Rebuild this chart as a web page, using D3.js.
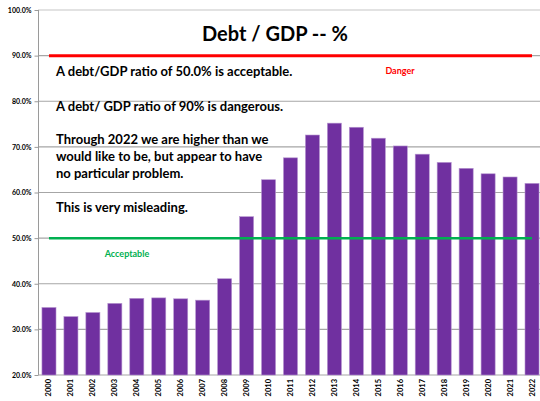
<!DOCTYPE html>
<html><head><meta charset="utf-8">
<script src="https://cdn.jsdelivr.net/npm/d3@7"></script>
<style>body{margin:0;background:#fff}svg{display:block}</style>
</head><body>
<svg id="c" width="540" height="401"></svg>
<script>
const years = ["2000","2001","2002","2003","2004","2005","2006","2007","2008","2009","2010","2011","2012","2013","2014","2015","2016","2017","2018","2019","2020","2021","2022"];
const debtPct = [34.8,32.8,33.7,35.7,36.8,36.9,36.7,36.4,41.1,54.7,62.8,67.6,72.6,75.2,74.3,71.9,70.2,68.4,66.6,65.3,64.1,63.4,62.0];
const yTicks = [20,30,40,50,60,70,80,90,100];
const dangerLevel = 90;
const acceptableLevel = 50;
const title = "Debt / GDP -- %";
const notes = [
  "A debt/GDP ratio of 50.0% is acceptable.",
  "A debt/ GDP ratio of 90% is dangerous.",
  "Through 2022 we are higher than we",
  "would like to be, but appear to have",
  "no particular problem.",
  "This is very misleading."
];

const svg = d3.select("#c");
const font = "Lato, 'Open Sans', sans-serif";
const x = d3.scaleBand().domain(years).range([38, 543]).paddingInner(0.36).paddingOuter(0.18);
const y = d3.scaleLinear().domain([20, 100]).range([375, 10]);

// gridlines
svg.append("g").selectAll("line").data(yTicks.slice(1)).join("line")
  .attr("x1", 38).attr("x2", 540)
  .attr("y1", d => y(d)).attr("y2", d => y(d))
  .attr("stroke", d => d === 100 ? "#d9d9d9" : "#a6a6a6").attr("stroke-width", d => d===100?1.5:1.2);

// y axis
const yAxis = d3.axisLeft(y).tickValues(yTicks).tickSize(4).tickFormat(d => d.toFixed(1) + "%");
const ga = svg.append("g").attr("transform", "translate(38.5,0)").call(yAxis);
ga.select(".domain").attr("stroke", "#9a9a9a").attr("d", `M0,${y(100)}V${y(20)}`);
ga.selectAll(".tick line").attr("stroke", "#9a9a9a");
ga.selectAll(".tick text").attr("x", -7).attr("font-family", font).attr("font-weight", "bold").attr("font-size", 7).attr("fill", "#000");

// bottom axis line
svg.append("line").attr("x1", 38).attr("x2", 540).attr("y1", y(20)).attr("y2", y(20)).attr("stroke", "#a6a6a6").attr("stroke-width", 1.2);

// bars
svg.append("g").selectAll("rect").data(years).join("rect")
  .attr("x", d => x(d)).attr("width", x.bandwidth())
  .attr("y", (d,i) => y(debtPct[i])).attr("height", (d,i) => y(20) - y(debtPct[i]))
  .attr("fill", "#7030a0").attr("stroke", "#b695d0").attr("stroke-width", 0.6);

// x labels
svg.append("g").selectAll("text").data(years).join("text")
  .attr("transform", d => `translate(${x(d) + x.bandwidth()/2 + 2.5},379) rotate(-90)`)
  .attr("text-anchor", "end").attr("font-family", font).attr("font-weight", "bold").attr("font-size", 7.5)
  .text(d => d);

// reference lines
const cx0 = x(years[0]) + x.bandwidth()/2, cx1 = x(years[years.length-1]) + x.bandwidth()/2;
svg.append("line").attr("x1", cx0).attr("x2", cx1).attr("y1", y(dangerLevel)).attr("y2", y(dangerLevel)).attr("stroke", "#ff0000").attr("stroke-width", 3);
svg.append("line").attr("x1", cx0).attr("x2", cx1).attr("y1", y(acceptableLevel)).attr("y2", y(acceptableLevel)).attr("stroke", "#00b050").attr("stroke-width", 2.5);

svg.append("text").attr("x", 400).attr("y", 74).attr("text-anchor", "middle").attr("font-family", font).attr("font-weight", "bold").attr("font-size", 9).attr("fill", "#ff0000").text("Danger");
svg.append("text").attr("x", 127).attr("y", 257).attr("text-anchor", "middle").attr("font-family", font).attr("font-weight", "bold").attr("font-size", 9).attr("fill", "#00b050").text("Acceptable");

// title
svg.append("text").attr("x", 275).attr("y", 41).attr("text-anchor", "middle").attr("font-family", font).attr("font-weight", "bold").attr("font-size", 20).attr("fill", "#000").text(title);

// notes
const noteY = [76, 111, 144, 161, 178, 212];
svg.append("g").selectAll("text").data(notes).join("text")
  .attr("x", 56).attr("y", (d,i) => noteY[i])
  .attr("font-family", font).attr("font-weight", "bold").attr("font-size", 13).attr("fill", "#000")
  .text(d => d);
</script>
</body></html>
